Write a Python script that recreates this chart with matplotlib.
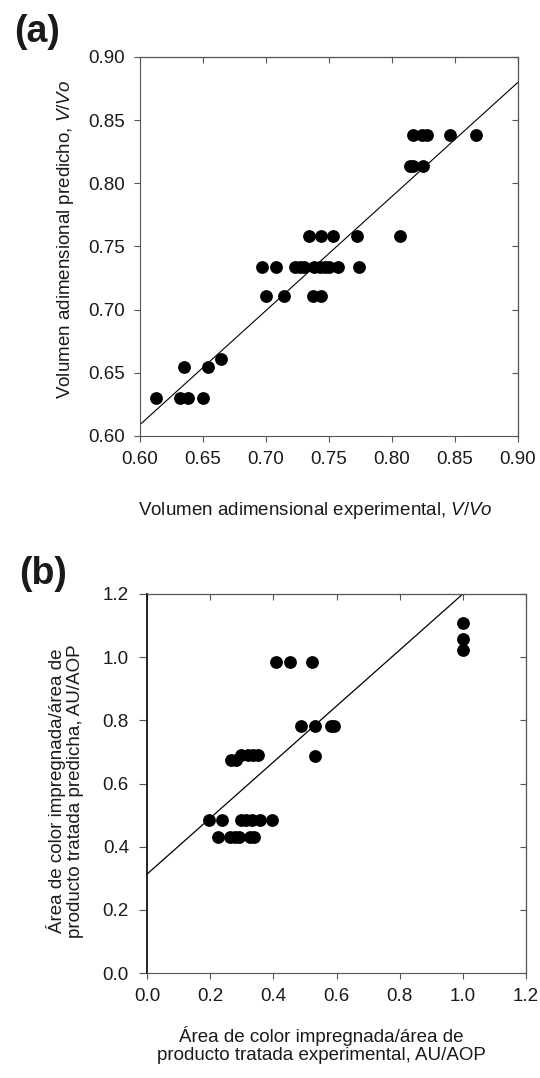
import matplotlib.pyplot as plt
import numpy as np

plt.rcParams['font.family'] = ['Liberation Sans', 'DejaVu Sans']
plt.rcParams['mathtext.fontset'] = 'custom'
plt.rcParams['mathtext.it'] = 'Liberation Sans:italic'
plt.rcParams['mathtext.rm'] = 'Liberation Sans'

# panel (a): dimensionless volume, experimental vs predicted
va_exp = [0.613, 0.632, 0.638, 0.635, 0.650, 0.654, 0.664,
          0.697, 0.708, 0.700, 0.714,
          0.723, 0.727, 0.730, 0.738, 0.743, 0.747, 0.750, 0.757, 0.774,
          0.737, 0.744,
          0.734, 0.744, 0.753, 0.772, 0.806,
          0.814, 0.817, 0.825,
          0.817, 0.824, 0.828, 0.846, 0.867]
va_pred = [0.630, 0.630, 0.630, 0.655, 0.630, 0.655, 0.661,
           0.734, 0.734, 0.711, 0.711,
           0.734, 0.734, 0.734, 0.734, 0.734, 0.734, 0.734, 0.734, 0.734,
           0.711, 0.711,
           0.758, 0.758, 0.758, 0.758, 0.758,
           0.814, 0.814, 0.814,
           0.838, 0.838, 0.838, 0.838, 0.838]
fit_a_x = [0.60, 0.90]
fit_a_y = [0.609, 0.880]

# panel (b): stained area ratio AU/AOP
ab_exp = [0.195, 0.238, 0.225, 0.262, 0.278, 0.292,
          0.299, 0.315, 0.331, 0.357, 0.325, 0.339, 0.397,
          0.267, 0.283, 0.299, 0.320, 0.336, 0.350,
          0.410, 0.454, 0.524,
          0.489, 0.531, 0.584, 0.592, 0.533,
          1.0, 1.0, 1.0]
ab_pred = [0.485, 0.485, 0.432, 0.432, 0.432, 0.432,
           0.485, 0.485, 0.485, 0.485, 0.432, 0.432, 0.485,
           0.674, 0.674, 0.690, 0.690, 0.690, 0.690,
           0.986, 0.986, 0.986,
           0.782, 0.782, 0.782, 0.782, 0.688,
           1.107, 1.056, 1.023]
fit_b_x = [0.0, 1.0]
fit_b_y = [0.313, 1.200]

fig = plt.figure(figsize=(5.40, 10.78), dpi=100)
W, H = 540, 1078
ax1 = fig.add_axes([140 / W, 1 - 436 / H, 378 / W, 379 / H])
ax2 = fig.add_axes([147 / W, 1 - 973 / H, 379 / W, 379 / H])

txt = '#1a1a1a'
spine_c = '#555555'
fs = 13.5


def style(ax, tick_len=4):
    for s in ax.spines.values():
        s.set_color(spine_c)
        s.set_linewidth(0.8)
    ax.tick_params(direction='out', length=tick_len, width=0.8, color=spine_c,
                   labelsize=fs, labelcolor=txt, pad=7)
    top = ax.secondary_xaxis('top')
    top.set_xticks(ax.get_xticks())
    top.tick_params(direction='in', length=4, width=0.8, color=spine_c, labeltop=False)
    right = ax.secondary_yaxis('right')
    right.set_yticks(ax.get_yticks())
    right.tick_params(direction='in', length=4, width=0.8, color=spine_c, labelright=False)


ax1.scatter(va_exp, va_pred, s=85, color='black', zorder=3, linewidths=0)
ax1.plot(fit_a_x, fit_a_y, color='black', lw=0.8)
ax1.set_xlim(0.60, 0.90)
ax1.set_ylim(0.60, 0.90)
ax1.set_xticks(np.arange(0.60, 0.901, 0.05))
ax1.set_yticks(np.arange(0.60, 0.901, 0.05))
ax1.set_xticklabels([f'{v:.2f}' for v in ax1.get_xticks()])
ax1.set_yticklabels([f'{v:.2f}' for v in ax1.get_yticks()])
style(ax1)
ax1.set_xlabel('Volumen adimensional experimental, $\\it{V/Vo}$', fontsize=fs, color=txt)
ax1.set_ylabel('Volumen adimensional predicho, $\\it{V/Vo}$', fontsize=fs, color=txt)
ax1.xaxis.set_label_coords(0.465, -0.17)
ax1.yaxis.set_label_coords(-0.17, 0.52)

ax2.scatter(ab_exp, ab_pred, s=85, color='black', zorder=3, linewidths=0)
ax2.plot(fit_b_x, fit_b_y, color='black', lw=0.9)
ax2.set_xlim(0, 1.2)
ax2.set_ylim(0, 1.2)
ax2.set_xticks(np.arange(0, 1.21, 0.2))
ax2.set_yticks(np.arange(0, 1.21, 0.2))
ax2.set_xticklabels([f'{v:.1f}' for v in ax2.get_xticks()])
ax2.set_yticklabels([f'{v:.1f}' for v in ax2.get_yticks()])
style(ax2)
ax2.tick_params(axis='y', length=6)
ax2.spines['left'].set_color('black')
ax2.spines['left'].set_linewidth(1.2)
ax2.set_xlabel('Área de color impregnada/área de\nproducto tratada experimental, AU/AOP',
               fontsize=fs, color=txt, linespacing=1.05)
ax2.set_ylabel('Área de color impregnada/área de\nproducto tratada predicha, AU/AOP',
               fontsize=fs, color=txt, linespacing=1.1)
ax2.xaxis.set_label_coords(0.46, -0.14)
ax2.yaxis.set_label_coords(-0.165, 0.48)

fig.text(14 / W, 1 - 32 / H, '(a)', fontsize=27, fontweight='bold', va='center', color=txt)
fig.text(19 / W, 1 - 574 / H, '(b)', fontsize=27, fontweight='bold', va='center', color=txt)

fig.savefig('out.png', dpi=100)
